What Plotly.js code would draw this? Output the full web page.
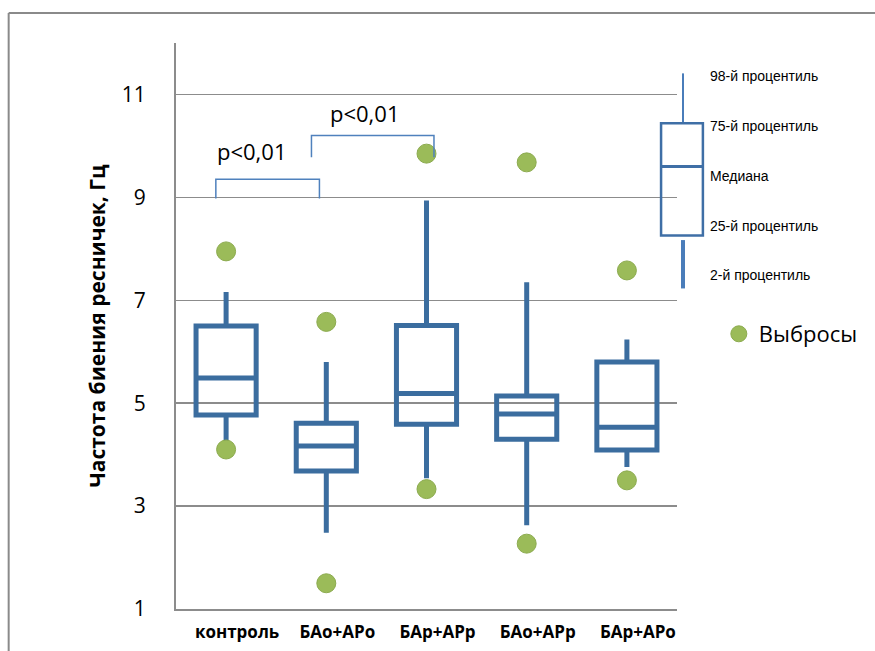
<!DOCTYPE html>
<html>
<head>
<meta charset="utf-8">
<script src="https://cdn.plot.ly/plotly-3.0.1.min.js"></script>
<style>html,body{margin:0;padding:0;background:#fff;}#chart{width:875px;height:651px;}</style>
</head>
<body>
<div id="chart"></div>
<script>
// Data
const categories = ["контроль", "БАо+АРо", "БАр+АРр", "БАо+АРр", "БАр+АРо"];
const lowerWhisker = [4.15, 2.48, 3.54, 2.63, 3.76];
const q1Values     = [4.77, 3.68, 4.59, 4.30, 4.09];
const medianValues = [5.49, 4.17, 5.19, 4.79, 4.53];
const q3Values     = [6.50, 4.61, 6.51, 5.14, 5.80];
const upperWhisker = [7.16, 5.80, 8.94, 7.35, 6.24];
const outliersHigh = [7.95, 6.58, 9.85, 9.68, 7.58];
const outliersLow  = [4.10, 1.50, 3.33, 2.27, 3.50];
const yTicks = [1, 3, 5, 7, 9, 11];
const legendLabels = ["98-й процентиль", "75-й процентиль", "Медиана", "25-й процентиль", "2-й процентиль"];
const legendLabelY = [11.35, 10.38, 9.41, 8.44, 7.49];
const pLabel = "p<0,01";
const outlierName = "Выбросы";

const BOX = "#3b6d9f";
const GREEN = "#9bbb59";
const GRID = "#8c8c8c";
const FONT = "Open Sans, Liberation Sans, sans-serif";

const traces = categories.map((c, i) => ({
  type: "box",
  x: [c],
  q1: [q1Values[i]],
  median: [medianValues[i]],
  q3: [q3Values[i]],
  lowerfence: [lowerWhisker[i]],
  upperfence: [upperWhisker[i]],
  width: 0.6,
  whiskerwidth: 0,
  line: {color: BOX, width: 5},
  fillcolor: "rgba(0,0,0,0)",
  boxpoints: false,
  showlegend: false,
  hoverinfo: "skip"
}));

traces.push({
  type: "scatter",
  mode: "markers",
  name: outlierName,
  x: categories.concat(categories),
  y: outliersHigh.concat(outliersLow),
  marker: {color: GREEN, size: 19, line: {color: "#8cab4f", width: 1}},
  showlegend: true,
  cliponaxis: false
});

// pixel helpers for decorations (plot area: x 176..679)
const L = 176, W = 503;
const px = v => (v - L) / W;

const shapes = [
  // outer frame (top and left edges visible)
  {type: "line", xref: "paper", yref: "paper", x0: px(8), x1: px(900), y0: (609-13)/566, y1: (609-13)/566, line: {color: "#8a8a8a", width: 2}},
  {type: "line", xref: "paper", yref: "paper", x0: px(8), x1: px(8), y0: (609-13)/566, y1: -0.2, line: {color: "#8a8a8a", width: 2}},
  // significance brackets
  {type: "path", xref: "paper", yref: "y", path: `M ${px(216)},8.98 L ${px(216)},9.35 L ${px(320)},9.35 L ${px(320)},8.98`, line: {color: "#4f81bd", width: 1.5}},
  {type: "path", xref: "paper", yref: "y", path: `M ${px(312)},9.78 L ${px(312)},10.2 L ${px(435)},10.2 L ${px(435)},9.78`, line: {color: "#4f81bd", width: 1.5}},
  // key box
  {type: "line", xref: "paper", yref: "y", x0: px(685), x1: px(685), y0: 10.44, y1: 11.41, line: {color: "#4a7dba", width: 2}},
  {type: "rect", xref: "paper", yref: "y", x0: px(663), x1: px(705), y0: 8.26, y1: 10.44, line: {color: "#3f6fa6", width: 2.5}},
  {type: "line", xref: "paper", yref: "y", x0: px(663), x1: px(705), y0: 9.60, y1: 9.60, line: {color: "#3f6fa6", width: 3}},
  {type: "line", xref: "paper", yref: "y", x0: px(685), x1: px(685), y0: 7.23, y1: 8.17, line: {color: "#4a7dba", width: 4}}
];

const annotations = [
  {xref: "paper", yref: "y", x: px(252), y: 9.91, xanchor: "center", yanchor: "middle", text: pLabel, showarrow: false, font: {family: FONT, size: 22, color: "#000"}},
  {xref: "paper", yref: "y", x: px(365), y: 10.63, xanchor: "center", yanchor: "middle", text: pLabel, showarrow: false, font: {family: FONT, size: 22, color: "#000"}}
].concat(legendLabels.map((t, i) => ({
  xref: "paper", yref: "y", x: px(710), y: legendLabelY[i], xanchor: "left", yanchor: "middle",
  text: t, showarrow: false, font: {family: "Liberation Sans, sans-serif", size: 14, color: "#000"}
})));

const layout = {
  width: 875, height: 651,
  margin: {l: 176, r: 196, t: 43, b: 42},
  paper_bgcolor: "#fff", plot_bgcolor: "#fff",
  font: {family: FONT, color: "#000"},
  showlegend: true,
  legend: {x: px(721), xanchor: "left", y: (609-334)/566, yanchor: "middle", font: {family: FONT, size: 22, color: "#000"}, bgcolor: "rgba(0,0,0,0)"},
  xaxis: {
    type: "category",
    categoryarray: categories,
    showgrid: false,
    showline: true, linecolor: GRID, linewidth: 2,
    ticks: "", ticklabelshift: 11, ticklabelstandoff: 7,
    tickfont: {family: FONT, size: 17, color: "#000", weight: "bold"},
    range: [-0.5, 4.5],
    zeroline: false, fixedrange: true
  },
  yaxis: {
    range: [1, 12],
    tickvals: yTicks,
    ticktext: yTicks.map(String),
    showgrid: true, gridcolor: GRID, gridwidth: 1.5,
    showline: true, linecolor: GRID, linewidth: 2,
    ticks: "", ticklabelstandoff: 24,
    tickfont: {family: FONT, size: 21, color: "#000"},
    zeroline: false, fixedrange: true,
    title: {text: "Частота биения ресничек, Гц", font: {family: FONT, size: 21, color: "#000", weight: "bold"}, standoff: 10}
  },
  shapes: shapes,
  annotations: annotations
};

Plotly.newPlot("chart", traces, layout, {displayModeBar: false, staticPlot: true});
</script>
</body>
</html>
